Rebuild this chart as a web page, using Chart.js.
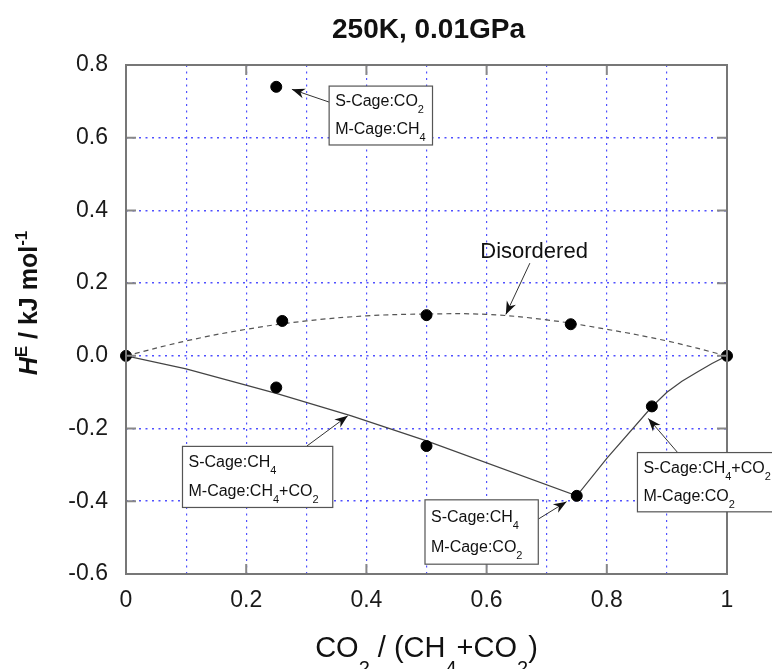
<!DOCTYPE html>
<html>
<head>
<meta charset="utf-8">
<script src="https://cdn.jsdelivr.net/npm/chart.js@4.4.1/dist/chart.umd.min.js"></script>
<style>
  html, body { margin: 0; padding: 0; background: #fff; }
  #wrap { width: 772px; height: 669px; }
</style>
</head>
<body>
<div id="wrap"><canvas id="c" width="772" height="669"></canvas></div>
<script>
// values
const disorderedX = [0, 0.1, 0.2, 0.3, 0.4, 0.5, 0.6, 0.7, 0.8, 0.9, 1];
const disorderedFit = [0, 0.041, 0.073, 0.096, 0.110, 0.115, 0.114, 0.099, 0.073, 0.041, 0];
const orderedX = [0, 0.1, 0.25, 0.375, 0.5, 0.75, 0.8, 0.875, 0.9, 0.925, 0.95, 0.975, 1];
const orderedFit = [0, -0.036, -0.103, -0.165, -0.234, -0.385, -0.282, -0.14, -0.10, -0.07, -0.045, -0.021, 0];
const pointX = [0, 0.25, 0.25, 0.26, 0.5, 0.5, 0.74, 0.75, 0.875, 1];
const pointY = [0, 0.74, -0.087, 0.096, 0.112, -0.248, 0.087, -0.385, -0.139, 0];
const xTickLabels = ['0', '0.2', '0.4', '0.6', '0.8', '1'];
const yTickLabels = ['-0.6', '-0.4', '-0.2', '0.0', '0.2', '0.4', '0.6', '0.8'];

const FAM = "'Liberation Sans', Arial, Helvetica, sans-serif";

// callouts, in data units
const notes = [
  { box: [0.338, 0.742, 0.51, 0.58],
    lines: [[['S-Cage:CO'], ['2', 'sub']], [['M-Cage:CH'], ['4', 'sub']]],
    from: [0.338, 0.698], to: [0.276, 0.733] },
  { box: [0.094, -0.249, 0.344, -0.417],
    lines: [[['S-Cage:CH'], ['4', 'sub']], [['M-Cage:CH'], ['4', 'sub'], ['+CO'], ['2', 'sub']]],
    from: [0.301, -0.248], to: [0.369, -0.165] },
  { box: [0.4975, -0.396, 0.686, -0.573],
    lines: [[['S-Cage:CH'], ['4', 'sub']], [['M-Cage:CO'], ['2', 'sub']]],
    from: [0.686, -0.449], to: [0.733, -0.401] },
  { box: [0.851, -0.266, 1.08, -0.429],
    lines: [[['S-Cage:CH'], ['4', 'sub'], ['+CO'], ['2', 'sub']], [['M-Cage:CO'], ['2', 'sub']]],
    from: [0.92, -0.27], to: [0.869, -0.172] }
];
const disorderedNote = { text: 'Disordered', at: [0.679, 0.27], from: [0.672, 0.255], to: [0.632, 0.114] };

function richDraw(ctx, parts, x, y, size, weight, align, drop) {
  const fontOf = p => {
    const small = p[1] === 'sub' || p[1] === 'sup';
    const s = small ? Math.round(size * 0.68) : size;
    return (p[1] === 'it' ? 'italic ' : '') + weight + ' ' + s + 'px ' + FAM;
  };
  let w = 0;
  parts.forEach(p => { ctx.font = fontOf(p); w += ctx.measureText(p[0]).width; });
  let cx = align === 'center' ? x - w / 2 : x;
  ctx.textAlign = 'left';
  ctx.textBaseline = 'alphabetic';
  parts.forEach(p => {
    ctx.font = fontOf(p);
    const dy = p[1] === 'sub' ? size * drop : p[1] === 'sup' ? -size * 0.42 : 0;
    ctx.fillText(p[0], cx, y + dy);
    cx += ctx.measureText(p[0]).width;
  });
}

function arrow(ctx, x1, y1, x2, y2) {
  const ang = Math.atan2(y2 - y1, x2 - x1);
  ctx.strokeStyle = '#333';
  ctx.lineWidth = 1;
  ctx.setLineDash([]);
  ctx.beginPath();
  ctx.moveTo(x1, y1);
  ctx.lineTo(x2, y2);
  ctx.stroke();
  ctx.save();
  ctx.translate(x2, y2);
  ctx.rotate(ang);
  ctx.fillStyle = '#111';
  ctx.beginPath();
  ctx.moveTo(0, 0);
  ctx.lineTo(-13, -5);
  ctx.lineTo(-9, 0);
  ctx.lineTo(-13, 5);
  ctx.closePath();
  ctx.fill();
  ctx.restore();
}

const deco = {
  id: 'deco',
  afterDatasetsDraw(chart) {
    const { ctx, chartArea: a, scales: { x, y } } = chart;
    ctx.save();
    // major tick marks, pointing inward
    ctx.strokeStyle = '#888';
    ctx.lineWidth = 2;
    xTickLabels.forEach((t, i) => {
      const px = x.getPixelForValue(i * 0.2);
      ctx.beginPath();
      ctx.moveTo(px, a.bottom); ctx.lineTo(px, a.bottom - 10);
      ctx.moveTo(px, a.top); ctx.lineTo(px, a.top + 10);
      ctx.stroke();
    });
    yTickLabels.forEach((t, i) => {
      const py = y.getPixelForValue(-0.6 + i * 0.2);
      ctx.beginPath();
      ctx.moveTo(a.left, py); ctx.lineTo(a.left + 10, py);
      ctx.moveTo(a.right, py); ctx.lineTo(a.right - 10, py);
      ctx.stroke();
    });
    // frame
    ctx.strokeStyle = '#777';
    ctx.lineWidth = 2;
    ctx.strokeRect(a.left, a.top, a.right - a.left, a.bottom - a.top);

    // callout boxes
    notes.forEach(n => {
      const l = x.getPixelForValue(n.box[0]), t = y.getPixelForValue(n.box[1]);
      const r = x.getPixelForValue(n.box[2]), b = y.getPixelForValue(n.box[3]);
      arrow(ctx, x.getPixelForValue(n.from[0]), y.getPixelForValue(n.from[1]),
        x.getPixelForValue(n.to[0]), y.getPixelForValue(n.to[1]));
      ctx.fillStyle = '#fff';
      ctx.fillRect(l, t, r - l, b - t);
      ctx.strokeStyle = '#555';
      ctx.lineWidth = 1.2;
      ctx.strokeRect(l, t, r - l, b - t);
      ctx.fillStyle = '#111';
      const h = b - t;
      richDraw(ctx, n.lines[0], l + 6, t + h * 0.34, 16, 'normal', 'left', 0.45);
      richDraw(ctx, n.lines[1], l + 6, t + h * 0.81, 16, 'normal', 'left', 0.45);
    });

    // Disordered label
    const d = disorderedNote;
    arrow(ctx, x.getPixelForValue(d.from[0]), y.getPixelForValue(d.from[1]),
      x.getPixelForValue(d.to[0]), y.getPixelForValue(d.to[1]));
    ctx.fillStyle = '#111';
    ctx.font = '22px ' + FAM;
    ctx.textAlign = 'center';
    ctx.textBaseline = 'alphabetic';
    ctx.fillText(d.text, x.getPixelForValue(d.at[0]), y.getPixelForValue(d.at[1]));

    // title and axis titles
    const midX = (a.left + a.right) / 2;
    ctx.fillStyle = '#111';
    richDraw(ctx, [['250K, 0.01GPa']], midX + 2, 38, 28, 'bold', 'center', 0);
    richDraw(ctx, [['CO'], ['2', 'sub'], [' / (CH'], ['4', 'sub'], ['+CO'], ['2', 'sub'], [')']],
      midX, 657, 29, 'normal', 'center', 0.62);
    ctx.save();
    ctx.translate(37, 303);
    ctx.rotate(-Math.PI / 2);
    richDraw(ctx, [['H', 'it'], ['E', 'sup'], [' / kJ mol'], ['-1', 'sup']], 0, 0, 25, 'bold', 'center', 0);
    ctx.restore();
    ctx.restore();
  }
};

const gridBlue = '#5050ff';

new Chart(document.getElementById('c'), {
  data: {
    datasets: [
      {
        type: 'scatter',
        data: pointX.map((v, i) => ({ x: v, y: pointY[i] })),
        backgroundColor: '#000',
        borderColor: '#000',
        pointRadius: 5.5,
        clip: false,
        order: 0
      },
      {
        type: 'line',
        data: disorderedX.map((v, i) => ({ x: v, y: disorderedFit[i] })),
        borderColor: '#555',
        borderWidth: 1.2,
        borderDash: [5, 4],
        pointRadius: 0,
        tension: 0.4,
        fill: false,
        order: 2
      },
      {
        type: 'line',
        data: orderedX.map((v, i) => ({ x: v, y: orderedFit[i] })),
        borderColor: '#444',
        borderWidth: 1.2,
        pointRadius: 0,
        tension: 0,
        fill: false,
        order: 1
      }
    ]
  },
  options: {
    responsive: false,
    animation: false,
    layout: { padding: { top: 65, right: 45, left: 0, bottom: 0 } },
    plugins: {
      legend: { display: false },
      tooltip: { enabled: false },
      title: { display: false }
    },
    scales: {
      x: {
        type: 'linear',
        min: 0, max: 1,
        afterFit: s => { s.height = 95; },
        ticks: {
          stepSize: 0.1,
          padding: 13,
          color: '#1a1a1a',
          font: { family: FAM, size: 23 },
          maxRotation: 0,
          autoSkip: false,
          callback: v => {
            const k = Math.round(v * 10);
            return k % 2 === 0 ? xTickLabels[k / 2] : '';
          }
        },
        grid: { color: gridBlue, lineWidth: 1.2, drawTicks: false },
        border: { display: false, dash: [2, 4.5] }
      },
      y: {
        type: 'linear',
        min: -0.6, max: 0.8,
        afterFit: s => { s.width = 126; },
        ticks: {
          stepSize: 0.2,
          padding: 18,
          color: '#1a1a1a',
          font: { family: FAM, size: 23 },
          callback: v => yTickLabels[Math.round((v + 0.6) / 0.2)]
        },
        grid: { color: gridBlue, lineWidth: 1.6, drawTicks: false },
        border: { display: false, dash: [2, 4.5] }
      }
    }
  },
  plugins: [deco]
});
</script>
</body>
</html>
